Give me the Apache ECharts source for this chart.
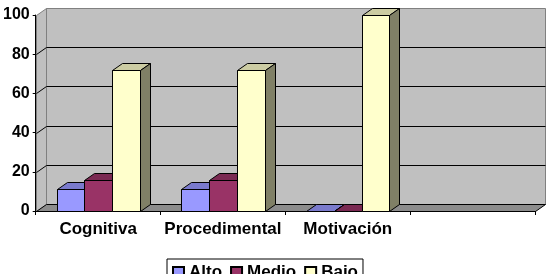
<!DOCTYPE html>
<html>
<head>
<meta charset="utf-8">
<script src="https://cdn.jsdelivr.net/npm/echarts@6/dist/echarts.min.js"></script>
<style>
  html, body { margin: 0; padding: 0; background: #fff; }
  #chart { width: 548px; height: 274px; }
</style>
</head>
<body>
<div id="chart"></div>
<script>
var categories = ['Cognitiva', 'Procedimental', 'Motivación', ''];
var alto = [11, 11, 0];
var medio = [16, 16, 0];
var bajo = [72, 72, 100];
var gridValues = [20, 40, 60, 80];

// 3D depth offset (px)
var DX = 10, DY = -7;
var font = 'Liberation Sans, Arial, sans-serif';

function px(v) { return Math.round(v) + 0.5; }

var chartDom = document.getElementById('chart');
var myChart = echarts.init(chartDom);

// back wall, left wall, floor, gridlines
function renderWalls(params, api) {
  var cs = params.coordSys;
  var l = px(cs.x), r = px(cs.x + cs.width);
  var b = px(api.coord([0, 0])[1]), t = px(api.coord([0, 100])[1]);
  var children = [];
  children.push({
    type: 'polygon',
    shape: { points: [[l + DX, t + DY], [r + DX, t + DY], [r + DX, b + DY], [l + DX, b + DY]] },
    style: { fill: '#c0c0c0', stroke: '#808080', lineWidth: 1 }
  });
  children.push({
    type: 'polygon',
    shape: { points: [[l, t], [l + DX, t + DY], [l + DX, b + DY], [l, b]] },
    style: { fill: '#c0c0c0', stroke: '#808080', lineWidth: 1 }
  });
  children.push({
    type: 'polygon',
    shape: { points: [[l, b], [r, b], [r + DX, b + DY], [l + DX, b + DY]] },
    style: { fill: '#8c8c8c', stroke: '#000', lineWidth: 1 }
  });
  gridValues.forEach(function (v) {
    var y = px(api.coord([0, v])[1]);
    children.push({
      type: 'polyline',
      shape: { points: [[l, y], [l + DX, y + DY], [r + DX, y + DY]] },
      style: { stroke: '#000', lineWidth: 1, fill: null }
    });
  });
  return { type: 'group', children: children };
}

function barSeries(name, values, slot, front, top, side) {
  return {
    name: name,
    type: 'custom',
    coordinateSystem: 'cartesian2d',
    itemStyle: { color: front, borderColor: '#000', borderWidth: 1 },
    encode: { x: 0, y: 1 },
    data: values.map(function (v, i) { return [i, v]; }),
    z: 3,
    renderItem: function (params, api) {
      var base = api.coord([api.value(0), 0]);
      var tip = api.coord([api.value(0), api.value(1)]);
      var w = api.size([1, 0])[0] * 0.222;
      var x0 = px(base[0] + (slot - 1.5) * w), x1 = px(base[0] + (slot - 0.5) * w);
      var y0 = px(base[1]), y1 = px(tip[1]);
      var st = { stroke: '#000', lineWidth: 1 };
      return {
        type: 'group',
        children: [
          { type: 'polygon', shape: { points: [[x0, y1], [x1, y1], [x1, y0], [x0, y0]] },
            style: Object.assign({ fill: front }, st) },
          { type: 'polygon', shape: { points: [[x0, y1], [x0 + DX, y1 + DY], [x1 + DX, y1 + DY], [x1, y1]] },
            style: Object.assign({ fill: top }, st) },
          { type: 'polygon', shape: { points: [[x1, y1], [x1 + DX, y1 + DY], [x1 + DX, y0 + DY], [x1, y0]] },
            style: Object.assign({ fill: side }, st) }
        ]
      };
    }
  };
}

var option = {
  animation: false,
  backgroundColor: '#fff',
  grid: { left: 31, right: 13, top: 15, bottom: 63 },
  legend: {
    data: ['Alto', 'Medio', 'Bajo'],
    left: 167,
    top: 259,
    icon: 'rect',
    itemWidth: 11,
    itemHeight: 11,
    itemGap: 8,
    padding: [5, 5, 2, 5],
    borderColor: '#000',
    borderWidth: 1,
    backgroundColor: '#fff',
    textStyle: { color: '#000', fontWeight: 'bold', fontSize: 17, fontFamily: font }
  },
  xAxis: {
    type: 'category',
    data: categories,
    axisLine: { lineStyle: { color: '#000', width: 1 } },
    axisTick: { show: true, length: 4, lineStyle: { color: '#000' } },
    axisLabel: { interval: 0, color: '#000', fontWeight: 'bold', fontSize: 17, fontFamily: font, margin: 10 },
    splitLine: { show: false }
  },
  yAxis: {
    type: 'value',
    min: 0,
    max: 100,
    interval: 20,
    axisLine: { show: true, lineStyle: { color: '#000', width: 1 } },
    axisTick: { show: true, length: 3, lineStyle: { color: '#000' } },
    axisLabel: { color: '#000', fontWeight: 'bold', fontSize: 16, fontFamily: font, margin: 6 },
    splitLine: { show: false }
  },
  series: [
    {
      name: 'walls',
      type: 'custom',
      coordinateSystem: 'cartesian2d',
      silent: true,
      z: 0,
      data: [[0, 0]],
      renderItem: renderWalls
    },
    barSeries('Alto', alto, 0, '#9999ff', '#7a7acc', '#4d4d80'),
    barSeries('Medio', medio, 1, '#993366', '#7a2952', '#4d1a33'),
    barSeries('Bajo', bajo, 2, '#ffffcc', '#cccca3', '#808066')
  ]
};

option && myChart.setOption(option);
</script>
</body>
</html>
